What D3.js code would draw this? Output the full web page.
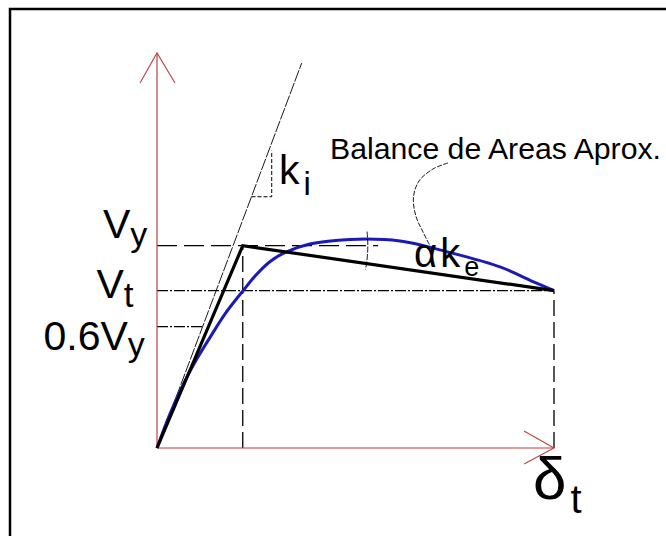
<!DOCTYPE html>
<html>
<head>
<meta charset="utf-8">
<script src="https://cdn.jsdelivr.net/npm/d3@7"></script>
<style>
  html, body { margin: 0; padding: 0; background: #fff; }
  svg { display: block; }
  text { font-family: "Liberation Sans", Arial, sans-serif; fill: #000; }
</style>
</head>
<body>
<svg id="chart" width="666" height="536"></svg>
<script>
// Capacity curve (normalised: displacement / delta_t, shear / V_y)
const capacityDisp  = [0, 0.033, 0.068, 0.101, 0.134, 0.171, 0.217, 0.247, 0.285, 0.322, 0.385, 0.486, 0.612, 0.738, 0.864, 0.947, 1.0];
const capacityShear = [0, 0.170, 0.322, 0.442, 0.548, 0.662, 0.778, 0.850, 0.922, 0.966, 1.008, 1.031, 1.023, 0.966, 0.895, 0.823, 0.778];

// Idealised bilinear curve: origin -> yield point -> target point
const bilinearDisp  = [0, 0.216, 1.0];
const bilinearShear = [0, 1.0, 0.778];

// Reference levels
const Vy = 1.0, Vt = 0.778, V06 = 0.6;
const deltaY = 0.216, deltaT = 1.0;
const ki = 5.22;            // initial stiffness (secant through 0.6 Vy)
const kiLineEnd = 0.3645;   // extent of the initial-stiffness line
const kiTriangle = [[0.238, 1.242], [0.289, 1.242], [0.289, 1.47]];
const vyGuideEnd = 0.557;   // horizontal guide drawn from V_y past the yield point
const arcReach = 0.531;     // where the alpha arc crosses
const arcAngles = [-6.5, 11]; // degrees, measured from the horizontal
const leaderDisp  = [0.733, 0.695, 0.660, 0.646, 0.652, 0.670, 0.688];
const leaderShear = [1.409, 1.379, 1.320, 1.241, 1.147, 1.068, 0.998];
const axisMax = { disp: 1.0, shear: 1.953 };

const svg = d3.select("#chart");

// frame
svg.append("rect").attr("x", 10).attr("y", 9).attr("width", 700).attr("height", 600)
  .attr("fill", "none").attr("stroke", "#000").attr("stroke-width", 2.5);

const x = d3.scaleLinear().domain([0, 1]).range([157, 554]);
const y = d3.scaleLinear().domain([0, 1]).range([448, 245.7]);

const line = d3.line().x(d => x(d[0])).y(d => y(d[1]));
const zip = (a, b) => a.map((v, i) => [v, b[i]]);

const g = svg.append("g");

// helper for guide segments
function seg(p, q, dash, w, color) {
  g.append("path").attr("d", line([p, q]))
    .attr("fill", "none").attr("stroke", color || "#000")
    .attr("stroke-width", w).attr("stroke-dasharray", dash);
}

// guides
seg([0, Vy], [vyGuideEnd, Vy], "20,7", 1.3);
seg([0, Vt], [deltaT, Vt], "11,2,2,2", 1.2);
seg([0, V06], [V06 / ki, V06], "11,2,2,2", 1.2);
seg([deltaY, 0], [deltaY, Vy], "16,6", 1.3);
seg([deltaT, 0], [deltaT, Vt], "16,6", 1.3);

// initial stiffness line and its slope triangle
seg([0, 0], [kiLineEnd, ki * kiLineEnd], "12,1.5", 0.9);
g.append("path").attr("d", line(kiTriangle))
  .attr("fill", "none").attr("stroke", "#000").attr("stroke-width", 1)
  .attr("stroke-dasharray", "4,2");

// axes (red) with open arrow heads
const axisColor = "#c2413f";
seg([0, 0], [0, axisMax.shear], null, 1.2, axisColor);
seg([0, 0], [axisMax.disp, 0], null, 1.2, axisColor);
const yTip = [x(0), y(axisMax.shear)];
g.append("path")
  .attr("d", `M${yTip[0] - 17},${yTip[1] + 30}L${yTip[0]},${yTip[1]}L${yTip[0] + 18},${yTip[1] + 30}`)
  .attr("fill", "none").attr("stroke", axisColor).attr("stroke-width", 1.1);
const xTip = [x(axisMax.disp), y(0)];
g.append("path")
  .attr("d", `M${xTip[0] - 30},${xTip[1] - 17}L${xTip[0]},${xTip[1]}L${xTip[0] - 30},${xTip[1] + 16}`)
  .attr("fill", "none").attr("stroke", axisColor).attr("stroke-width", 1.1);

// capacity curve
g.append("path").attr("d", line.curve(d3.curveCatmullRom.alpha(0.5))(zip(capacityDisp, capacityShear)))
  .attr("fill", "none").attr("stroke", "#1a1ab4").attr("stroke-width", 3);
line.curve(d3.curveLinear);

// bilinear idealisation
g.append("path").attr("d", line(zip(bilinearDisp, bilinearShear)))
  .attr("fill", "none").attr("stroke", "#000").attr("stroke-width", 3.2)
  .attr("stroke-linejoin", "miter");

// alpha arc between the horizontal and the post-yield branch
const cx = x(deltaY), cy = y(Vy), r = x(arcReach) - x(deltaY);
const a0 = arcAngles[0] * Math.PI / 180, a1 = arcAngles[1] * Math.PI / 180;
g.append("path")
  .attr("d", `M${cx + r * Math.cos(a0)},${cy + r * Math.sin(a0)}A${r},${r} 0 0 1 ${cx + r * Math.cos(a1)},${cy + r * Math.sin(a1)}`)
  .attr("fill", "none").attr("stroke", "#000").attr("stroke-width", 0.9)
  .attr("stroke-dasharray", "6,1.5");

// leader from the note to the curve
g.append("path").attr("d", line.curve(d3.curveCatmullRom)(zip(leaderDisp, leaderShear)))
  .attr("fill", "none").attr("stroke", "#000").attr("stroke-width", 0.9)
  .attr("stroke-dasharray", "5,1.5");
line.curve(d3.curveLinear);

// labels with subscripts: parts = [[text, size, dx, dy], ...]
function label(px, py, parts) {
  const t = svg.append("text").attr("x", px).attr("y", py);
  parts.forEach(([s, size, dx, dy]) => {
    t.append("tspan").attr("font-size", size).attr("dx", dx || 0).attr("dy", dy || 0).text(s);
  });
}
label(103, y(Vy) - 8, [["V", 41], ["y", 34, 0, 8]]);
label(96.5, y(Vt) + 7.6, [["V", 41], ["t", 35, 0, 9]]);
label(43.5, y(V06) + 23.4, [["0.6V", 41], ["y", 34, 0, 6]]);
label(279, 184, [["k", 41], ["i", 33, 4, 11]]);
label(414, 266.7, [["α", 40], ["k", 40, 3], ["e", 27, 4, 9.6]]);
label(533, 499, [["δ", 60], ["t", 40, 4, 14]]);

svg.append("text").attr("x", 330).attr("y", 158.5).attr("font-size", 29.5)
  .attr("textLength", 331).attr("lengthAdjust", "spacingAndGlyphs")
  .text("Balance de Areas Aprox.");
</script>
</body>
</html>
